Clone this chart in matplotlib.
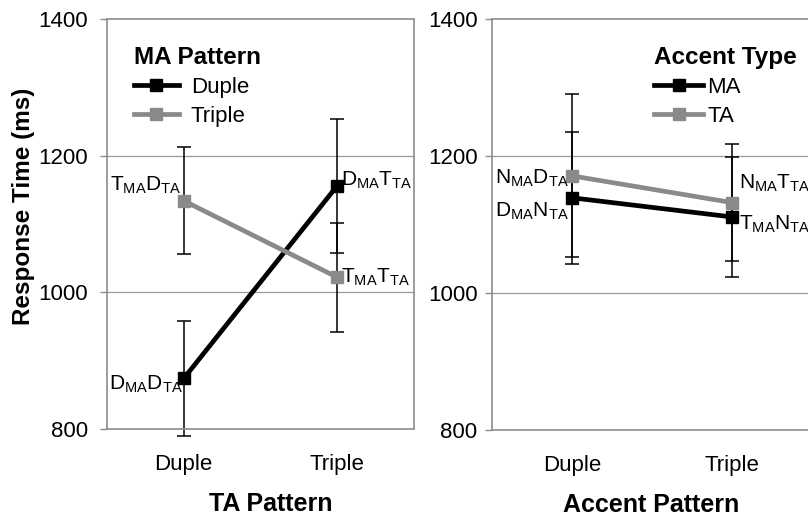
import matplotlib
matplotlib.use("Agg")
import matplotlib.pyplot as plt

plt.rcParams['font.family'] = ['Liberation Sans', 'DejaVu Sans']
plt.rcParams['mathtext.fontset'] = 'custom'
plt.rcParams['mathtext.rm'] = 'Liberation Sans'

# ---- data ----
categories = ["Duple", "Triple"]
yticks = [800, 1000, 1200, 1400]

# Left panel: MA Pattern
left_duple = [874, 1156]
left_duple_err = [84, 98]
left_triple = [1134, 1022]
left_triple_err = [78, 80]
left_labels_duple = [r"D$_\mathregular{MA}$D$_\mathregular{TA}$", r"D$_\mathregular{MA}$T$_\mathregular{TA}$"]
left_labels_triple = [r"T$_\mathregular{MA}$D$_\mathregular{TA}$", r"T$_\mathregular{MA}$T$_\mathregular{TA}$"]

# Right panel: Accent Type
right_ma = [1139, 1111]
right_ma_err = [96, 87]
right_ta = [1171, 1132]
right_ta_err = [119, 85]
right_labels_ma = [r"D$_\mathregular{MA}$N$_\mathregular{TA}$", r"T$_\mathregular{MA}$N$_\mathregular{TA}$"]
right_labels_ta = [r"N$_\mathregular{MA}$D$_\mathregular{TA}$", r"N$_\mathregular{MA}$T$_\mathregular{TA}$"]

BLACK = "#000000"
GRAY = "#8a8a8a"
SPINE = "#8c8c8c"

fig = plt.figure(figsize=(8.08, 5.16), dpi=100)
axL = fig.add_axes([107/808, 87/516, 307/808, 410/516])
axR = fig.add_axes([492/808, 86/516, 336/808, 411/516])

xs = [0, 1]

def style(ax, xlabel, xmax, ypad, xlab_x):
    ax.set_xlim(-0.5, xmax)
    ax.set_ylim(800, 1400)
    ax.set_yticks(yticks)
    ax.set_xticks(xs)
    ax.set_xticklabels(categories, fontsize=16)
    ax.tick_params(axis='x', length=0, pad=18)
    ax.tick_params(axis='y', length=5, width=1, color=SPINE, labelsize=16, pad=ypad)
    for s in ax.spines.values():
        s.set_color(SPINE)
        s.set_linewidth(1.2)
    for y in [1000, 1200]:
        ax.axhline(y, color="#9a9a9a", lw=0.9, zorder=0)
    ax.set_xlabel(xlabel, fontsize=18, fontweight='bold')
    ax.xaxis.set_label_coords(xlab_x, -0.153)

def series(ax, vals, errs, color, label):
    ax.errorbar(xs, vals, yerr=errs, fmt='none', ecolor='black', elinewidth=1.1,
                capsize=5, capthick=1.1, zorder=2, clip_on=False)
    ax.plot(xs, vals, color=color, lw=3.4, marker='s', markersize=8.5,
            label=label, zorder=3, clip_on=False)

style(axL, "TA Pattern", 1.5, 8.5, 0.534)
series(axL, left_duple, left_duple_err, BLACK, "Duple")
series(axL, left_triple, left_triple_err, GRAY, "Triple")
axL.set_ylabel("Response Time (ms)", fontsize=17.5, fontweight='bold')
axL.yaxis.set_label_coords(-0.234, 0.544)

fs = 15
axL.annotate(left_labels_triple[0], (xs[0], left_triple[0]), xytext=(-2, 11),
             textcoords='offset points', ha='right', va='center', fontsize=fs)
axL.annotate(left_labels_duple[0], (xs[0], left_duple[0]), xytext=(-1, -4),
             textcoords='offset points', ha='right', va='center', fontsize=fs)
axL.annotate(left_labels_duple[1], (xs[1], left_duple[1]), xytext=(3, 4),
             textcoords='offset points', ha='left', va='center', fontsize=fs)
axL.annotate(left_labels_triple[1], (xs[1], left_triple[1]), xytext=(3, 0),
             textcoords='offset points', ha='left', va='center', fontsize=fs)

legL = axL.legend(loc='upper left', bbox_to_anchor=(0.067, 0.95), frameon=False,
                  title="MA Pattern", title_fontproperties={'weight': 'bold', 'size': 17.5},
                  alignment='left', fontsize=16, handlelength=2.0, handletextpad=0.55,
                  labelspacing=0.35, borderaxespad=0, borderpad=0.3)

style(axR, "Accent Pattern", 1.6, 5.5, 0.473)
series(axR, right_ma, right_ma_err, BLACK, "MA")
series(axR, right_ta, right_ta_err, GRAY, "TA")

axR.annotate(right_labels_ta[0], (xs[0], right_ta[0]), xytext=(-2, -2),
             textcoords='offset points', ha='right', va='center', fontsize=fs)
axR.annotate(right_labels_ma[0], (xs[0], right_ma[0]), xytext=(-2, -10),
             textcoords='offset points', ha='right', va='center', fontsize=fs)
axR.annotate(right_labels_ta[1], (xs[1], right_ta[1]), xytext=(5, 14),
             textcoords='offset points', ha='left', va='center', fontsize=fs)
axR.annotate(right_labels_ma[1], (xs[1], right_ma[1]), xytext=(5, -5),
             textcoords='offset points', ha='left', va='center', fontsize=fs)

legR = axR.legend(loc='upper left', bbox_to_anchor=(0.463, 0.95), frameon=False,
                  title="Accent Type", title_fontproperties={'weight': 'bold', 'size': 17.5},
                  alignment='left', fontsize=16, handlelength=2.2, handletextpad=0.2,
                  labelspacing=0.35, borderaxespad=0, borderpad=0.3)

fig.savefig("out.png", dpi=100)
